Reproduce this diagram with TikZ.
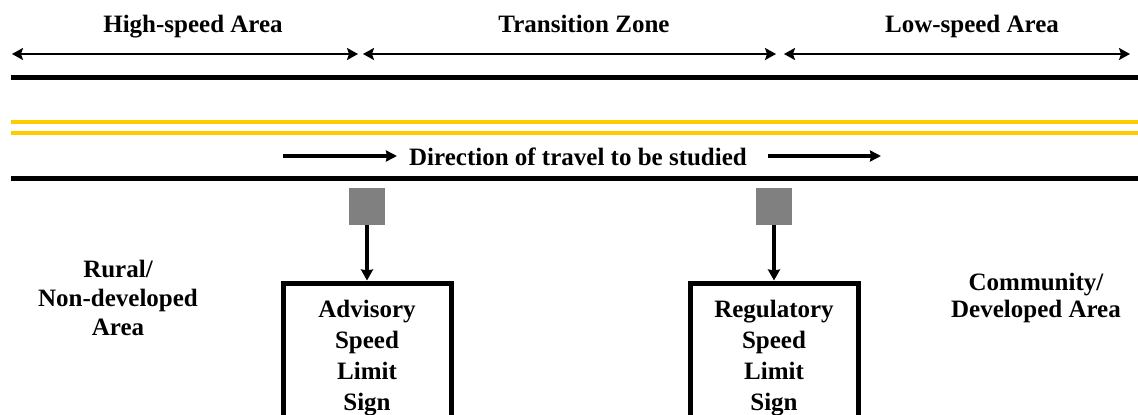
\documentclass[tikz,border=0pt]{standalone}
\usepackage{fontspec}
\setmainfont{Liberation Serif}
\usetikzlibrary{positioning,arrows.meta}
\definecolor{roadyellow}{HTML}{FFCC00}
\definecolor{signgray}{HTML}{808080}

\begin{document}
\begin{tikzpicture}[x=1pt, y=-1pt, every node/.style={font=\fontsize{25}{29}\selectfont\bfseries}]
% one unit per pixel, y grows downwards

\tikzstyle{road} 	= [line width = 5pt, color = black] % road edge
\tikzstyle{centre} 	= [line width = 4.5pt, color = roadyellow] % yellow centre line
\tikzstyle{span} 	= [line width = 2pt, {Stealth[length=11pt,width=12pt,inset=2pt]}-{Stealth[length=11pt,width=12pt,inset=2pt]}] % zone extent
\tikzstyle{arrow} 	= [line width = 4.5pt, -{Stealth[length=11pt,width=11pt,inset=1pt]}] % travel direction
\tikzstyle{post} 	= [line width = 3.5pt, -{Stealth[length=11pt,width=12pt,inset=1pt]}] % sign to box
\tikzstyle{sign} 	= [fill = signgray, minimum width = 36pt, minimum height = 37pt, inner sep = 0pt] % grey sign
\tikzstyle{block} 	= [draw, line width = 5pt, minimum width = 168pt, minimum height = 150pt, text width = 160pt, align = center, anchor = north, font = \fontsize{25}{31}\selectfont\bfseries]
\tikzstyle{area} 	= [align = center]

\useasboundingbox (0,0) rectangle (1138,415);
\clip (0,0) rectangle (1138,415);

% zone boundaries
\coordinate (z0) at (12,54);
\coordinate (z1) at (358,54);
\coordinate (z2) at (363,54);
\coordinate (z3) at (776,54);
\coordinate (z4) at (784,54);
\coordinate (z5) at (1130,54);

% zone titles with extents
\node(high)[anchor=base] at (193,32){High-speed Area};
\node(trans)[anchor=base] at (584,32){Transition Zone};
\node(low)[anchor=base] at (972,32){Low-speed Area};
\draw[span](z0)--(z1);
\draw[span](z2)--(z3);
\draw[span](z4)--(z5);

% road
\draw[road](11,77)--(1140,77);
\draw[centre](11,122)--(1140,122);
\draw[centre](11,133)--(1140,133);
\draw[road](11,178)--(1140,178);

% direction of travel
\node(dir)[anchor=base] at (578,165){Direction of travel to be studied};
\coordinate(d1) at (283,156);
\coordinate(d2) at (397,156);
\coordinate(d3) at (768,156);
\coordinate(d4) at (881,156);
\draw[arrow](d1)--(d2);
\draw[arrow](d3)--(d4);

% signs and their boxes
\node(sign1)[sign] at (367,206.5){};
\node(sign2)[sign] at (774,206.5){};
\node(adv)[block] at (367,280.5){Advisory\\Speed\\Limit\\Sign};
\node(reg)[block] at (774,280.5){Regulatory\\Speed\\Limit\\Sign};
\draw[post](sign1)--(adv);
\draw[post](sign2)--(reg);

% areas
\node(rural)[area] at (118,298){Rural/\\Non-developed\\Area};
\node(comm)[area, font=\fontsize{25}{27}\selectfont\bfseries] at (1036,298){Community/\\Developed Area};
\end{tikzpicture}
\end{document}
